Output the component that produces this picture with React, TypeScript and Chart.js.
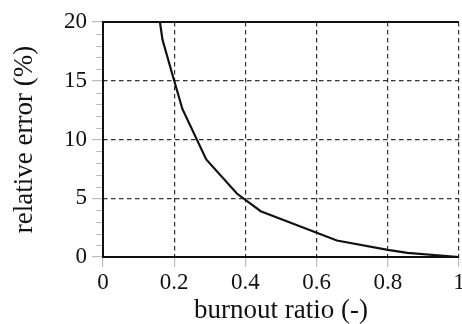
import React, { useEffect, useRef } from "react";
import { Chart, registerables } from "chart.js";

Chart.register(...registerables);

// Data
const burnoutRatio = [0.16, 0.167, 0.2, 0.223, 0.29, 0.376, 0.443, 0.657, 0.8, 0.855, 1.0];
const relativeError = [20, 18.5, 15.0, 12.6, 8.3, 5.4, 3.9, 1.4, 0.6, 0.35, 0];

const xMajorStep = 0.2;
const yMajorStep = 5;
const yMinorStep = 1;
const xTitle = "burnout ratio (-)";
const yTitle = "relative error (%)";

const FONT = "'Liberation Serif', 'Times New Roman', serif";
const TEXT = "#111111";
const GRID = "#333333";
const TICK = "#bdbdbd";

const isMajorY = (v: number) => Math.abs(v / yMajorStep - Math.round(v / yMajorStep)) < 1e-6;

const framePlugin = {
  id: "frame",
  afterDraw(chart: any) {
    const { ctx, chartArea: a, scales } = chart;
    const y = scales.y;
    ctx.save();
    // minor ticks on y axis
    ctx.strokeStyle = TICK;
    ctx.lineWidth = 1;
    for (let v = y.min; v <= y.max + 1e-9; v += yMinorStep) {
      if (isMajorY(v)) continue;
      const py = Math.round(y.getPixelForValue(v)) + 0.5;
      ctx.beginPath();
      ctx.moveTo(a.left - 7, py);
      ctx.lineTo(a.left, py);
      ctx.stroke();
    }
    // solid frame: left, bottom, top
    ctx.strokeStyle = "#111111";
    ctx.lineWidth = 2;
    ctx.beginPath();
    ctx.moveTo(a.right, a.top);
    ctx.lineTo(a.left, a.top);
    ctx.lineTo(a.left, a.bottom);
    ctx.lineTo(a.right, a.bottom);
    ctx.stroke();
    ctx.restore();
  },
};

export default function App() {
  const canvasRef = useRef<HTMLCanvasElement | null>(null);

  useEffect(() => {
    document.body.style.margin = "0";
    const canvas = canvasRef.current;
    if (!canvas) return;
    const points = burnoutRatio.map((x, i) => ({ x, y: relativeError[i] }));
    const chart = new Chart(canvas, {
      type: "line",
      data: {
        datasets: [
          {
            data: points,
            borderColor: "#111111",
            borderWidth: 2.2,
            pointRadius: 0,
            tension: 0,
            fill: false,
          },
        ],
      },
      options: {
        animation: false,
        responsive: false,
        maintainAspectRatio: false,
        layout: { padding: { top: 22, right: 3, bottom: 0, left: 0 } },
        plugins: { legend: { display: false }, tooltip: { enabled: false } },
        scales: {
          x: {
            type: "linear",
            min: 0,
            max: 1,
            ticks: {
              stepSize: xMajorStep,
              color: TEXT,
              font: { family: FONT, size: 23 },
              padding: 2,
              maxRotation: 0,
              autoSkip: false,
              callback: (v: any) => String(Math.round(Number(v) * 10) / 10),
            },
            grid: {
              color: (c: any) => (c.tick && c.tick.value > 0 && c.tick.value < 1.0001 ? GRID : "rgba(0,0,0,0)"),
              lineWidth: 1.2,
              tickColor: TICK,
              tickLength: 10,
            },
            border: { display: false, dash: [4.5, 3.5] },
            title: {
              display: true,
              text: xTitle,
              color: TEXT,
              font: { family: FONT, size: 27, lineHeight: 1 },
              padding: { top: 0, bottom: 0 },
            },
            afterFit: (s: any) => {
              s.height = 67;
              s.paddingLeft = 0;
              s.paddingRight = 0;
            },
          },
          y: {
            type: "linear",
            min: 0,
            max: 20,
            ticks: {
              stepSize: yMinorStep,
              color: TEXT,
              font: { family: FONT, size: 23 },
              padding: 5,
              autoSkip: false,
              callback: (v: any) => (isMajorY(Number(v)) ? String(v) : ""),
            },
            grid: {
              color: (c: any) =>
                c.tick && isMajorY(c.tick.value) && c.tick.value > 0 && c.tick.value < 20 ? GRID : "rgba(0,0,0,0)",
              lineWidth: 1.2,
              tickColor: (c: any) => (c.tick && isMajorY(c.tick.value) ? TICK : "rgba(0,0,0,0)"),
              tickLength: 11,
            },
            border: { display: false, dash: [4.5, 3.5] },
            title: {
              display: true,
              text: yTitle,
              color: TEXT,
              font: { family: FONT, size: 27, lineHeight: 1 },
              padding: { top: 11, bottom: 0 },
            },
            afterFit: (s: any) => {
              s.width = 103;
              s.paddingTop = 0;
              s.paddingBottom = 0;
            },
          },
        },
      },
      plugins: [framePlugin],
    });
    return () => chart.destroy();
  }, []);

  return (
    <div style={{ position: "absolute", left: 0, top: 0, width: 462, height: 324 }}>
      <canvas ref={canvasRef} width={462} height={324} style={{ width: 462, height: 324, display: "block" }} />
    </div>
  );
}
